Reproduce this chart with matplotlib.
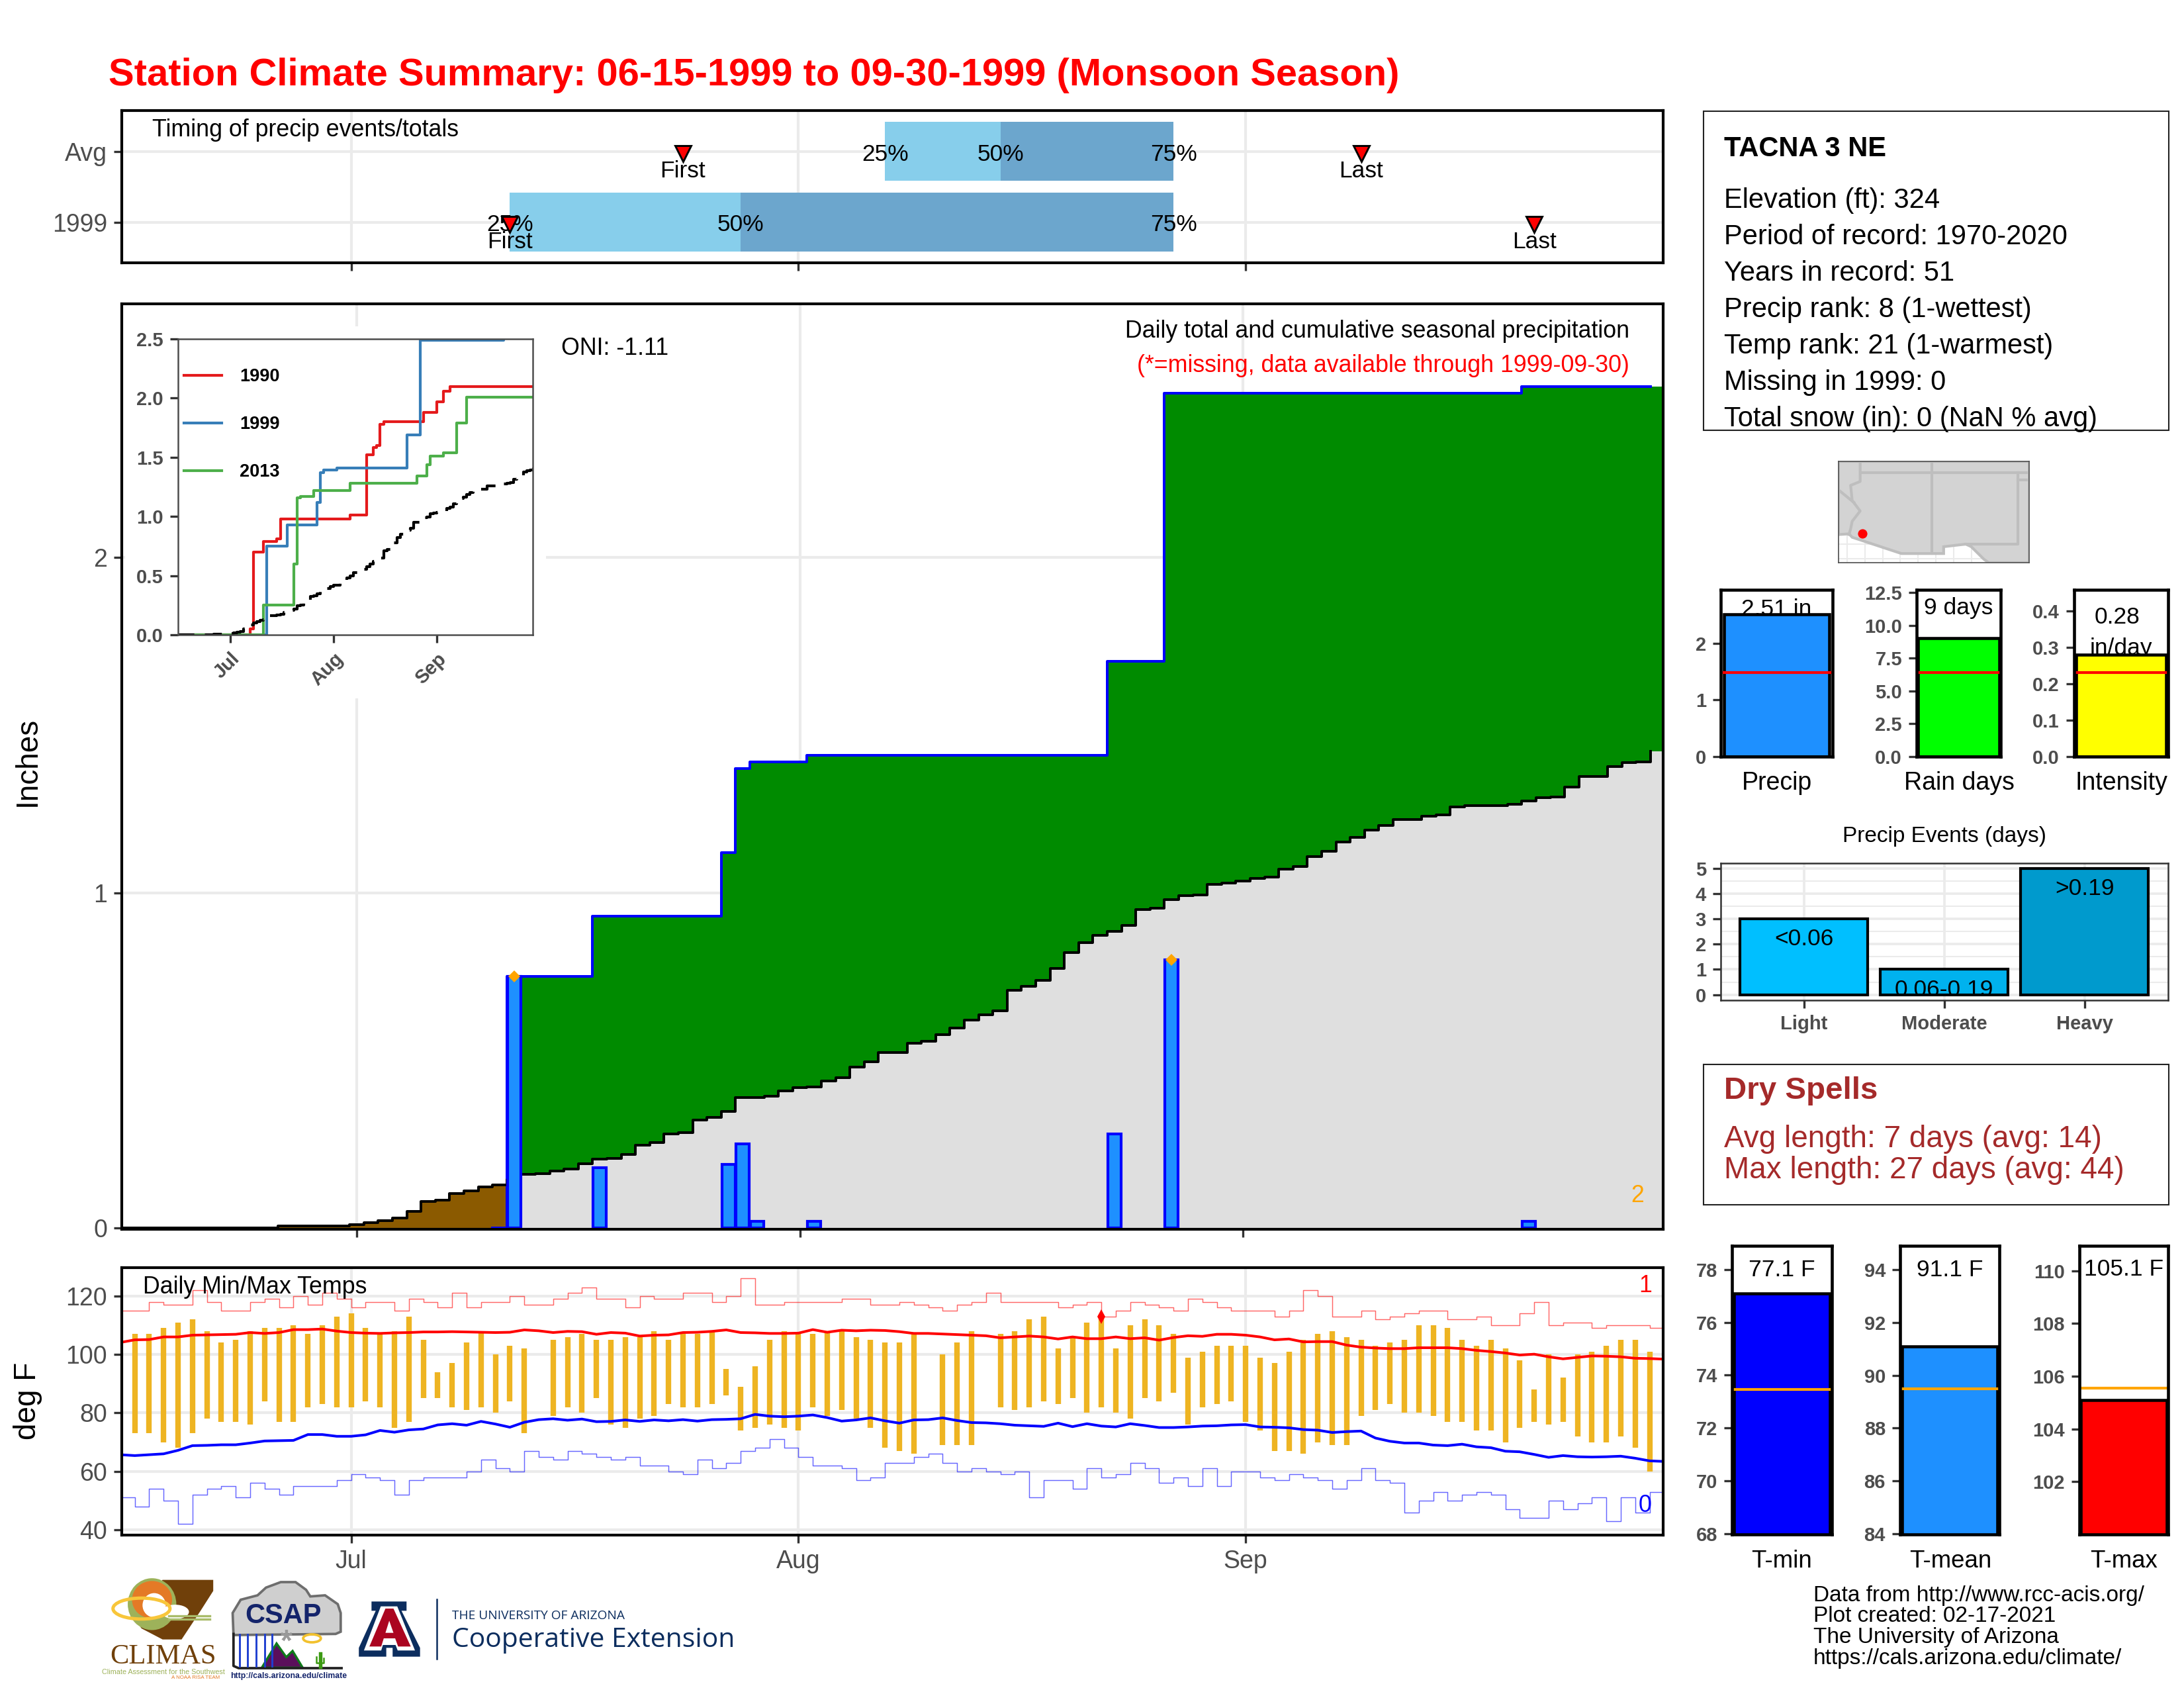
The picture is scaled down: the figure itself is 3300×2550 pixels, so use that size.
import numpy as np
import matplotlib
matplotlib.use("Agg")
import matplotlib.pyplot as plt
from matplotlib.patches import Polygon, Ellipse, Rectangle

plt.rcParams['font.family'] = ['Liberation Sans', 'DejaVu Sans']
plt.rcParams['ytick.alignment'] = 'center_baseline'

# ---------------- data ----------------
days = np.arange(-16, 92)            # days relative to July 1
month_ticks = [0, 31, 62]
month_labels = ['Jul', 'Aug', 'Sep']
nan = float('nan')

precip_day = [11, 17, 26, 27, 28, 32, 53, 57, 82]
precip_val = [0.75, 0.18, 0.19, 0.25, 0.02, 0.02, 0.28, 0.80, 0.02]
extreme_day = [11, 57]
extreme_val = [0.75, 0.80]

normal_cum = [0, 0, 0, 0, 0, 0, 0, 0, 0, 0, 0,
              .005, .005, .005, .005, .005, .009, .016, .021,
              .030, .049, .079, .083, .103, .111, .123, .129,
              .145, .160, .161, .170, .176, .192, .206, .208, .219, .247,
              .254, .281, .285, .322, .329, .347, .389, .390, .393, .408,
              .418, .421, .438, .449, .479, .495, .523, .524, .550, .556,
              .576, .596, .620, .635, .648, .709, .721, .738, .775, .821,
              .851, .873, .885, .903, .949, .953, .979, .991, .994, 1.025,
              1.028, 1.035, 1.042, 1.046, 1.071, 1.079, 1.108, 1.123, 1.152, 1.165,
              1.186, 1.201, 1.218, 1.218, 1.229, 1.232, 1.257, 1.259, 1.259, 1.260,
              1.263, 1.274, 1.283, 1.286, 1.316, 1.346, 1.347, 1.376, 1.388, 1.390, 1.422]

tmax = [nan,
        107, 107, 109, 111, 112, 108, 104, 105, 108, 109,
        109, 110, 107, 110, 113, 114, 109, 107, 108, 113,
        105, 94, 97, 104, 108, 100, 103, 102, nan, 105,
        106, 107, 105, 105, 106, 106, 108, 105, 107, 107,
        108, 95, 89, 96, 105, 108, 107, 107, 108, 108,
        106, 105, 104,
        104, 107, nan, 100, 104, 108, nan, 107, 108, 112,
        113, 102, 106, 111, 113, 102, 110, 112, 110, 107,
        99, 101, 103, 103, 103, 99, 97, 101, 105, 107,
        108, 106, 105, 103, 104, 105, 110, 110, 109, 105,
        103, 105, 102, 98, 88, 100, 92, 100, 101, 103,
        105, 105, 101, nan]
tmin = [nan,
        73, 73, 70, 68, 73, 78, 77, 77, 76, 84,
        77, 77, 82, 83, 82, 82, 84, 82, 75, 77,
        85, 85, 82, 81, 82, 80, 84, 73, nan, 79,
        82, 80, 85, 76, 75, 78, 79, 83, 82, 82,
        83, 86, 74, 75, 76, 75, 74, 82, 79, 81,
        78, 75, 68,
        67, 66, nan, 69, 69, 69, nan, 82, 81, 82,
        84, 83, 85, 80, 82, 80, 78, 85, 84, 87,
        76, 82, 83, 84, 77, 74, 67, 67, 66, 70,
        69, 69, 79, 81, 83, 80, 80, 79, 77, 77,
        74, 74, 70, 75, 77, 76, 77, 72, 70, 70,
        72, 68, 60, nan]
rec_high = [115, 115, 118, 117, 117, 122, 118, 115, 115, 118, 119, 116, 120, 117, 121, 119,
            116, 118, 118, 115, 119, 118, 116, 121, 116, 118,
            118, 120, 117, 117, 119, 121, 123, 119, 119, 116,
            120, 119, 119, 121, 121, 118, 120, 126, 117, 117,
            118, 118, 118, 118, 119, 119, 117, 117,
            118, 117, 116, 115, 117, 118, 121, 118, 118, 118,
            118, 116, 117, 118, 113, 115, 118, 117, 116, 115,
            119, 118, 116, 115, 115, 115, 113, 115, 122, 120,
            113, 113, 115, 112, 113, 114, 115, 115, 112, 112,
            113, 110, 110, 114, 118, 110, 111, 111, 109, 110,
            110, 110, 109, 109]
rec_low = [51, 48, 54, 50, 42, 52, 54, 55, 51, 56, 54, 52, 55, 55, 55, 57,
           59, 58, 57, 52, 57, 58, 58, 58, 60, 64,
           61, 60, 67, 65, 64, 67, 66, 65, 64, 65,
           62, 62, 60, 59, 64, 61, 63, 67, 68, 71,
           68, 65, 62, 62, 61, 57, 58, 63,
           63, 65, 66, 63, 60, 61, 60, 59, 60, 51,
           57, 57, 54, 61, 58, 59, 63, 61, 56, 58,
           55, 61, 55, 60, 60, 58, 57, 59, 58, 57,
           54, 57, 61, 57, 56, 46, 50, 53, 50, 52,
           53, 52, 47, 44, 44, 50, 47, 49, 51, 43,
           51, 46, 53, 53]
mean_high = [104.1, 105.0, 105.1, 106.0, 106.0, 106.6, 106.7, 106.8, 106.9, 107.5,
             107.2, 107.5, 108.5, 108.5, 108.7, 108.0, 107.5, 107.3, 107.2, 107.4,
             107.5, 107.7, 107.7, 107.8, 107.7, 107.6, 107.5, 107.6, 108.4, 108.1,
             107.5, 107.9, 107.8, 106.9, 107.5, 107.3, 106.3, 106.6, 106.7, 107.5,
             107.6, 107.9, 108.4, 107.5, 107.4, 107.2, 107.2, 107.3, 108.5, 107.6,
             108.3, 108.1, 108.3, 108.2,
             107.8, 107.2, 107.2, 107.0, 106.8, 106.6, 106.4, 105.7, 106.0, 106.3,
             106.0, 105.3, 106.0, 105.4, 105.4, 106.0, 105.4, 105.7, 104.9, 105.8,
             106.4, 106.2, 106.9, 106.9, 106.6, 106.0, 105.0, 105.3, 104.3, 104.4,
             104.4, 103.2, 102.5, 102.2, 102.0, 102.0, 102.3, 102.3, 102.3, 102.0,
             101.4, 101.0, 100.5, 99.8, 100.1, 99.2, 98.5, 99.0, 99.5, 99.4,
             99.2, 98.7, 98.6, 98.4]
mean_low = [65.7, 65.4, 65.7, 66.0, 67.2, 68.8, 68.9, 69.1, 69.1, 69.7,
            70.4, 70.5, 70.6, 72.6, 72.6, 72.0, 72.0, 72.5, 74.0, 73.4,
            74.2, 74.5, 75.9, 76.3, 75.8, 77.1, 76.2, 75.1, 76.8, 77.7,
            78.0, 77.5, 77.9, 77.0, 77.1, 77.6, 77.1, 77.6, 77.3, 77.7,
            77.2, 77.7, 77.8, 78.0, 79.5, 78.9, 78.7, 78.9, 79.3, 78.4,
            77.2, 77.6, 78.3, 77.3,
            76.5, 77.6, 77.7, 78.3, 77.4, 76.7, 76.6, 76.3, 75.8, 75.6,
            75.4, 76.5, 75.3, 76.3, 75.5, 75.2, 76.3, 75.7, 75.0, 75.0,
            75.2, 75.5, 75.6, 75.9, 76.0, 75.2, 75.1, 74.9, 74.3, 74.1,
            73.3, 73.6, 73.8, 71.4, 70.3, 69.7, 69.7, 69.0, 68.8, 69.3,
            68.4, 68.1, 66.9, 66.7, 65.8, 64.8, 65.4, 65.0, 64.9, 65.0,
            65.2, 64.5, 63.6, 63.4]
rec_high_day = [52]
rec_high_val = [113]

timing_rows = ['1999', 'Avg']
q_obs = [11, 27, 57]
q_avg = [37, 45, 57]
first_last_obs = [11, 82]
first_last_avg = [23, 70]

y1990_d = [-16, 6, 7, 10, 14, 15, 36, 41, 43, 44, 45, 46, 58, 62, 64, 66, 91]
y1990_v = [0, .05, .70, .79, .81, .98, 1.01, 1.52, 1.58, 1.60, 1.78, 1.80, 1.88, 1.97, 2.06, 2.10, 2.10]
y2013_d = [-16, 10, 19, 20, 21, 25, 36, 56, 59, 60, 64, 68, 71, 91]
y2013_v = [0, .25, .60, 1.16, 1.17, 1.22, 1.28, 1.34, 1.44, 1.51, 1.54, 1.79, 2.01, 2.01]

precip_total, precip_avg = 2.51, 1.48
raindays, raindays_avg = 9, 6.4
intensity, intensity_avg = 0.28, 0.23
event_cats = ['Light', 'Moderate', 'Heavy']
event_vals = [3, 1, 5]
event_text = ['<0.06', '0.06-0.19', '>0.19']
t_vals = [77.1, 91.1, 105.1]
t_avgs = [73.45, 89.5, 105.55]
t_names = ['T-min', 'T-mean', 'T-max']

info_lines = ['Elevation (ft): 324', 'Period of record: 1970-2020', 'Years in record: 51',
              'Precip rank: 8 (1-wettest)', 'Temp rank: 21 (1-warmest)',
              'Missing in 1999: 0', 'Total snow (in): 0 (NaN % avg)']
credit_lines = ['Data from http://www.rcc-acis.org/', 'Plot created: 02-17-2021',
                'The University of Arizona', 'https://cals.arizona.edu/climate/']

land_lon = [-115.6, -114.86, -114.64, -111.18, -108.21, -108.21, -106.65, -106.27, -105.38, -105.04,
            -102.2, -102.2, -115.6]
land_lat = [32.67, 32.72, 32.48, 31.34, 31.34, 31.82, 32.0, 31.82, 30.94, 30.7, 30.7, 37.8, 37.8]
az_w_lon = [-114.08, -114.08, -114.75, -114.64, -114.08, -114.64, -114.75, -114.86]
az_w_lat = [37.8, 36.39, 36.12, 35.06, 34.32, 33.6, 33.07, 32.67]
station_lon, station_lat = -113.93, 32.75

# ---------------- helpers ----------------
W, H = 3300, 2550
fig = plt.figure(figsize=(11, 8.5), dpi=300, facecolor='white')
GRID = '#EBEBEB'
TICK = '#4D4D4D'


def axpx(l, t, r, b, **kw):
    return fig.add_axes([l / W, 1 - b / H, (r - l) / W, (b - t) / H], **kw)


def T(x, y, s, dy=4, **kw):
    kw.setdefault('fontsize', 8.6)
    kw.setdefault('va', 'center')
    return fig.text(x / W, 1 - (y + dy) / H, s, **kw)


def DT(a, x, y, s, z=4, size=8.5):
    a.annotate(s, (x, y), xytext=(0, -1), textcoords='offset points', ha='center', va='center',
               fontsize=size, zorder=z, annotation_clip=False)


def frame(ax, lw=1.0, color='black'):
    for sp in ax.spines.values():
        sp.set_linewidth(lw)
        sp.set_color(color)
        sp.set_zorder(20)


def ticks(ax, size=9, bold=False):
    ax.tick_params(axis='both', length=2.8, width=0.8, color='#333333', labelcolor=TICK,
                   labelsize=size, pad=2.5)
    if bold:
        for t in ax.get_xticklabels() + ax.get_yticklabels():
            t.set_fontweight('bold')


# ---------------- title ----------------
T(164, 110, 'Station Climate Summary: 06-15-1999 to 09-30-1999 (Monsoon Season)',
  fontsize=13.9, color='red', fontweight='bold')

# ---------------- timing panel ----------------
ax = axpx(184, 167, 2513, 397)
ax.set_xlim(-15.9, 90.94)
ax.set_ylim(0.425, 2.58)
ax.set_axisbelow(True)
ax.grid(True, color=GRID, lw=1.0)
rows = {'1999': 1, 'Avg': 2}
for name, q, fl in (('Avg', q_avg, first_last_avg), ('1999', q_obs, first_last_obs)):
    y = rows[name]
    ax.barh(y, q[1] - q[0], left=q[0], height=0.834, color='#87CEEB', zorder=2)
    ax.barh(y, q[2] - q[1], left=q[1], height=0.834, color='#6CA6CD', zorder=2)
    for v, lab in zip(q, ['25%', '50%', '75%']):
        DT(ax, v, y, lab)
    for v, lab in zip(fl, ['First', 'Last']):
        ax.plot(v, y - 0.03, marker='v', ms=5.6, mfc='red', mec='black', mew=0.7, zorder=5)
        DT(ax, v, y - 0.24, lab)
ax.set_yticks(list(rows.values()))
ax.set_yticklabels(list(rows.keys()))
ax.set_xticks(month_ticks)
ax.set_xticklabels([])
ticks(ax)
frame(ax)
T(230, 193, 'Timing of precip events/totals')

# ---------------- main precip panel ----------------
ax = axpx(184, 459, 2513, 1857)
ax.set_xlim(-16.44, 91.39)
ax.set_ylim(-0.004, 2.757)
ax.set_axisbelow(True)
ax.grid(True, color=GRID, lw=1.0, zorder=0)
daily = np.zeros(len(days))
for d, v in zip(precip_day, precip_val):
    daily[days == d] = v
cum = np.cumsum(daily)
norm = np.array(normal_cum)
edges = np.append(days - 0.5, days[-1] + 0.5)
c2 = np.append(cum, cum[-1])
n2 = np.append(norm, norm[-1])
low = np.minimum(c2, n2)
above = c2 >= n2
below = c2 < n2
below_ext = below | np.r_[False, below[:-1]]
ax.fill_between(edges, 0, low, step='post', color='#DFDFDF', lw=0, zorder=1)
ax.fill_between(edges, n2, c2, where=above, step='post', color='#008B00', lw=0, zorder=1)
ax.fill_between(edges, c2, n2, where=below_ext, step='post', color='#8B5A00', lw=0, zorder=1)
wet = days >= 10
ax.step((days - 0.5)[wet], cum[wet], where='post', color='#0000FF', lw=0.95, zorder=3)
ax.step(days - 0.5, norm, where='post', color='black', lw=0.95, zorder=3)
ax.bar(precip_day, precip_val, width=0.92, color='#1E90FF', edgecolor='#0000FF', lw=1.0, zorder=4)
ax.plot(extreme_day, extreme_val, ls='none', marker='D', ms=3.0, color='orange', mew=0, zorder=5)
ax.set_yticks([0, 1, 2])
ax.set_xticks(month_ticks)
ax.set_xticklabels([])
ticks(ax)
frame(ax)
T(2462, 497, 'Daily total and cumulative seasonal precipitation', ha='right')
T(2462, 549, '(*=missing, data available through 1999-09-30)', ha='right', color='red')
T(848, 522, 'ONI: -1.11')
T(2474, 1802, '2', color='orange', ha='center')
T(42, 1156, 'Inches', dy=-6, rotation=90, fontsize=11, ha='center')

# ---------------- inset ----------------
bg = axpx(189, 493, 825, 1055, zorder=5)
bg.set_facecolor('white')
bg.set_xticks([])
bg.set_yticks([])
for sp in bg.spines.values():
    sp.set_visible(False)
ax = axpx(269, 512, 805, 959, zorder=6)
ax.set_xlim(-15.7, 90.8)
ax.set_ylim(0, 2.5)
ax.step(y1990_d, y1990_v, where='post', color='#E41A1C', lw=1.0)
ax.step(days, cum, where='post', color='#377EB8', lw=1.0)
ax.step(y2013_d, y2013_v, where='post', color='#4DAF4A', lw=1.0)
ax.step(days, norm, where='post', color='black', lw=1.0, ls=(0, (6.4, 3.8)))
ax.set_xticks(month_ticks)
ax.set_xticklabels(month_labels, rotation=45, ha='right', rotation_mode='anchor')
ax.set_yticks([0, .5, 1, 1.5, 2, 2.5])
ax.set_yticklabels(['0.0', '0.5', '1.0', '1.5', '2.0', '2.5'])
ticks(ax, size=7, bold=True)
frame(ax, lw=0.6, color='#4D4D4D')
for lab, col, y in (('1990', '#E41A1C', 567), ('1999', '#377EB8', 639), ('2013', '#4DAF4A', 711)):
    fig.add_artist(plt.Line2D([278 / W, 335 / W], [1 - y / H, 1 - y / H], color=col, lw=1.0, zorder=7))
    T(362, y + 1, lab, dy=1, fontsize=6.5, fontweight='bold', zorder=7)

# ---------------- temperature panel ----------------
ax = axpx(184, 1915, 2513, 2319)
ax.set_xlim(-15.9, 90.94)
ax.set_ylim(38.2, 129.7)
ax.set_axisbelow(True)
ax.grid(True, color=GRID, lw=1.0)
ax.vlines(days, tmin, tmax, color='#EEB422', lw=2.0, zorder=2)
ax.step(days, rec_high, where='post', color='red', lw=0.35, alpha=0.6, zorder=3)
ax.step(days, rec_low, where='post', color='#0000FF', lw=0.35, alpha=0.6, zorder=3)
ax.plot(days, mean_high, color='red', lw=0.95, zorder=4)
ax.plot(days, mean_low, color='#0000FF', lw=0.95, zorder=4)
ax.plot(rec_high_day, rec_high_val, ls='none', marker='d', ms=3.6, color='red', mew=0, zorder=5)
ax.set_yticks([40, 60, 80, 100, 120])
ax.set_xticks(month_ticks)
ax.set_xticklabels(month_labels)
ticks(ax)
frame(ax)
T(216, 1941, 'Daily Min/Max Temps')
T(2486, 1939, '1', color='red', ha='center')
T(2486, 2270, '0', color='#0000FF', ha='center')
T(42, 2116, 'deg F', dy=0, rotation=90, fontsize=11, ha='center')

# ---------------- info box ----------------
for rect in ((2574, 168, 3277, 650), (2574, 1608, 3277, 1820)):
    fig.add_artist(Rectangle((rect[0] / W, 1 - rect[3] / H), (rect[2] - rect[0]) / W, (rect[3] - rect[1]) / H,
                             transform=fig.transFigure, fc='none', ec='#222222', lw=0.5))
T(2605, 221, 'TACNA 3 NE', fontsize=10, fontweight='bold')
for i, line in enumerate(info_lines):
    T(2605, 299 + i * 55, line, fontsize=10)
T(2605, 1644, 'Dry Spells', fontsize=11.4, fontweight='bold', color='#A52A2A')
T(2605, 1717, 'Avg length: 7 days (avg: 14)', fontsize=11, color='#A52A2A')
T(2605, 1764, 'Max length: 27 days (avg: 44)', fontsize=11, color='#A52A2A')

# ---------------- locator map ----------------
ax = axpx(2778, 697, 3066, 850)
ax.set_xlim(-115.6, -102.2)
ax.set_ylim(30.7, 37.8)
ax.set_xticks(np.arange(-115, -102, 1.25))
ax.set_yticks([31.0, 32.0])
ax.set_axisbelow(True)
ax.grid(True, color=GRID, lw=0.5)
ax.tick_params(length=0, labelbottom=False, labelleft=False)
ax.add_patch(Polygon(np.c_[land_lon, land_lat], fc='#D3D3D3', ec='#BEBEBE', lw=1.0, zorder=2))
BORDER = dict(color='#BEBEBE', lw=1.0, zorder=3)
ax.plot(az_w_lon, az_w_lat, **BORDER)
ax.plot([-115.6, -114.53], [35.8, 34.93], **BORDER)
ax.plot([-114.08, -102.2], [37.0, 37.0], **BORDER)
ax.plot([-109.05, -109.05], [37.8, 31.34], **BORDER)
ax.plot([-103.0, -103.0, -106.65], [37.0, 32.0, 32.0], **BORDER)
ax.plot([-103.0, -102.2], [36.5, 36.5], **BORDER)
ax.plot(station_lon, station_lat, 'o', color='red', ms=3.4, mew=0, zorder=5)
frame(ax, lw=0.4, color='#4D4D4D')


# ---------------- small bar panels ----------------
def barpanel(rect, val, avg, col, ylim, yt, ytl, avgcol, hw=0.482):
    a = axpx(*rect)
    a.set_xlim(-0.5, 0.5)
    a.set_ylim(*ylim)
    a.bar(0, val, width=2 * hw, color=col, edgecolor='black', lw=1.1, zorder=3)
    a.plot([-0.49, 0.49], [avg, avg], color=avgcol, lw=1.0, zorder=4)
    a.set_xticks([])
    a.set_yticks(yt)
    a.set_yticklabels(ytl)
    ticks(a, size=7, bold=True)
    frame(a, lw=1.1)
    return a


a = barpanel((2600, 891, 2769, 1143), precip_total, precip_avg, '#1E90FF', (0, 2.94), [0, 1, 2], ['0', '1', '2'], 'red', hw=0.47)
DT(a, 0, 2.65, '2.51 in', z=1)
T(2685, 1179, 'Precip', ha='center', fontsize=9)
a = barpanel((2896, 891, 3023, 1143), raindays, raindays_avg, '#00FF00', (0, 12.7), [0, 2.5, 5, 7.5, 10, 12.5],
             ['0.0', '2.5', '5.0', '7.5', '10.0', '12.5'], 'red')
DT(a, 0, 11.5, '9 days', z=1)
T(2960, 1179, 'Rain days', ha='center', fontsize=9)
a = barpanel((3134, 891, 3276, 1143), intensity, intensity_avg, '#FFFF00', (0, 0.458), [0, .1, .2, .3, .4],
             ['0.0', '0.1', '0.2', '0.3', '0.4'], 'red')
DT(a, -0.04, 0.391, '0.28', z=1)
DT(a, 0, 0.304, 'in/day', z=1)
T(3205, 1179, 'Intensity', ha='center', fontsize=9)

# ---------------- precip events ----------------
ax = axpx(2600, 1304, 3276, 1511)
ax.set_xlim(-0.594, 2.596)
ax.set_ylim(-0.22, 5.2)
ax.set_axisbelow(True)
ax.set_yticks(np.arange(0.5, 5, 1), minor=True)
ax.grid(True, which='major', color=GRID, lw=0.9)
ax.grid(True, which='minor', axis='y', color=GRID, lw=0.5)
ax.bar(range(3), event_vals, width=0.91, color=['#00BFFF', '#00B2EE', '#009ACD'], edgecolor='black', lw=1.0, zorder=3)
for i, (v, s) in enumerate(zip(event_vals, event_text)):
    DT(ax, i, v - 0.7, s)
ax.set_xticks(range(3))
ax.set_xticklabels(event_cats)
ax.set_yticks(range(6))
ax.tick_params(which='minor', length=0)
ticks(ax, size=7, bold=True)
frame(ax, lw=0.6, color='#333333')
T(2938, 1259, 'Precip Events (days)', ha='center', fontsize=8)

# ---------------- temperature bars ----------------
a = barpanel((2617, 1882, 2768, 2318), t_vals[0], t_avgs[0], '#0000FF', (67.97, 78.9), range(68, 80, 2),
             [str(v) for v in range(68, 80, 2)], 'orange')
DT(a, 0, 78.1, '77.1 F', z=1)
T(2692, 2355, t_names[0], ha='center', fontsize=8.8)
a = barpanel((2871, 1882, 3021, 2318), t_vals[1], t_avgs[1], '#1E90FF', (83.98, 94.9), range(84, 96, 2),
             [str(v) for v in range(84, 96, 2)], 'orange')
DT(a, 0, 94.1, '91.1 F', z=1)
T(2947, 2355, t_names[1], ha='center', fontsize=8.8)
a = barpanel((3142, 1882, 3276, 2318), t_vals[2], t_avgs[2], '#FF0000', (100.0, 110.95), range(102, 112, 2),
             [str(v) for v in range(102, 112, 2)], 'orange')
DT(a, 0, 110.16, '105.1 F', z=1)
T(3209, 2355, t_names[2], ha='center', fontsize=8.8)

for i, line in enumerate(credit_lines):
    T(2740, 2406 + i * 31.8, line, fontsize=8)

# ---------------- logos (drawn in a decorative overlay) ----------------
lg = axpx(150, 2370, 1150, 2550)
lg.set_xlim(0, 1568)
lg.set_ylim(540, 0)
lg.axis('off')


def P(pts, **kw):
    lg.add_patch(Polygon(pts, **kw))


P([(150, 50), (270, 50), (270, 100), (240, 190), (195, 320), (150, 320), (100, 270), (85, 230), (110, 120)], fc='#70400A', lw=0)
lg.add_patch(Ellipse((125, 160), 115, 235, fc='#9DB25A', lw=0))
lg.add_patch(Ellipse((125, 140), 95, 170, fc='#E47A26', lw=0))
lg.add_patch(Ellipse((130, 165), 55, 110, fc='white', lw=0))
lg.add_patch(Ellipse((180, 195), 65, 65, fc='white', lw=0))
lg.add_patch(Ellipse((100, 180), 135, 95, fc='none', ec='#F8C63A', lw=1.2))
lg.plot([165, 262], [212, 212], color='#A9BC6A', lw=0.8)
lg.plot([165, 262], [228, 228], color='#A9BC6A', lw=0.8)
lg.text(152, 398, 'CLIMAS', family='Liberation Serif', fontsize=10.2, color='#70400A', ha='center', va='center')
lg.text(152, 467, 'Climate Assessment for the Southwest', fontsize=2.6, color='#9DB25A', ha='center', va='center')
lg.text(228, 492, 'A NOAA RISA TEAM', fontsize=1.9, color='#E47A26', ha='center', va='center')

P([(318, 300), (316, 200), (335, 140), (375, 120), (395, 85), (430, 60), (465, 60), (490, 95), (500, 125),
   (535, 120), (565, 160), (572, 200), (572, 285), (560, 295)], fc='#CFCFCF', ec='#6E6E6E', lw=0.9)
lg.text(436, 214, 'CSAP', fontsize=10, fontweight='bold', color='#14246B', ha='center', va='center')
lg.plot([318, 318, 330, 574], [295, 440, 450, 450], color='#222222', lw=0.9)
for x in (333, 352, 371, 392, 410):
    lg.plot([x, x], [298, 440], color='#1F3FD0', lw=0.7)
P([(385, 448), (420, 338), (443, 400), (458, 372), (482, 448)], fc='#5B0F5B', ec='#0E7A1A', lw=0.8)
lg.text(443, 335, '*', fontsize=11, color='#999999', ha='center', va='center', fontweight='bold')
lg.add_patch(Ellipse((504, 315), 42, 36, fc='none', ec='#F2C12E', lw=0.9))
lg.plot([523, 523], [385, 445], color='#3C9A12', lw=1.3)
lg.plot([514, 514, 532, 532], [400, 425, 425, 405], color='#3C9A12', lw=0.6)
lg.text(448, 485, 'http://cals.arizona.edu/climate', fontsize=2.95, fontweight='bold', color='#14246B', ha='center', va='center')

NAVY = '#0C2D5E'
P([(645, 148), (728, 148), (728, 190), (716, 190), (760, 358), (760, 398), (695, 398), (695, 358), (680, 358),
   (680, 398), (615, 398), (615, 358), (655, 190), (645, 190)], fc=NAVY, lw=0)
P([(667, 170), (706, 170), (748, 370), (707, 370), (702, 345), (672, 345), (668, 370), (627, 370)], fc='white', lw=0)
P([(678, 180), (697, 180), (738, 352), (708, 352), (701, 315), (674, 315), (668, 352), (640, 352)], fc='#AB0520', lw=0)
P([(687, 235), (697, 290), (678, 290)], fc='white', lw=0)
lg.plot([800, 800], [138, 408], color=NAVY, lw=0.6)
lg.text(835, 212, 'THE UNIVERSITY OF ARIZONA', family='Open Sans', fontsize=4.6, color=NAVY, va='center')
lg.text(835, 322, 'Cooperative Extension', family='Open Sans', fontsize=9.8, color=NAVY, va='center')

fig.savefig('out.png', dpi=300)
